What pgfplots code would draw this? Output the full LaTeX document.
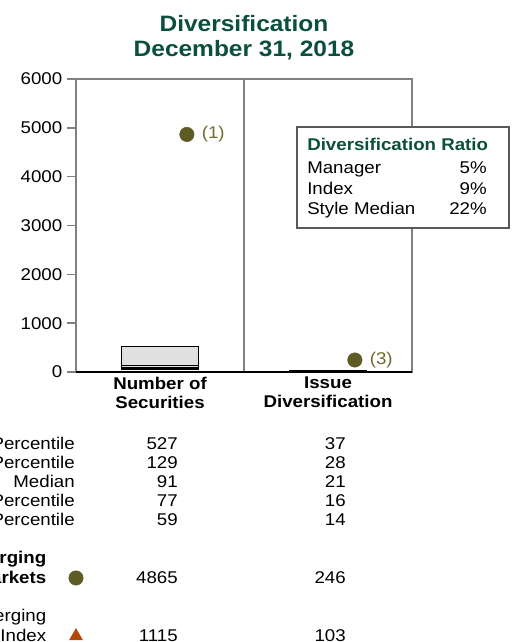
\documentclass[border=0pt]{standalone}
\usepackage{fontspec}
\setmainfont{Liberation Sans}[FakeStretch=1.1]
\usepackage{pgfplots}
\pgfplotsset{compat=1.18}
\definecolor{titlegreen}{HTML}{0B4F3C}
\definecolor{olivedot}{HTML}{5E5C24}
\definecolor{olivetext}{HTML}{6E6B2C}
\definecolor{idxorange}{HTML}{B04A0A}
\definecolor{axgray}{HTML}{808080}
\definecolor{boxfill}{HTML}{E0E0E0}
\newcommand{\bodyfont}{\fontsize{12.75}{14.25}\selectfont}
\newcommand{\titlefont}{\fontsize{16.7}{20}\selectfont\bfseries}
\begin{document}
\begin{tikzpicture}
\useasboundingbox (0,0) rectangle (384.75pt,-481.5pt);
\begin{axis}[
  at={(57pt,-279pt)}, anchor=south west,
  scale only axis, width=252pt, height=219.75pt,
  xmin=-0.5, xmax=1.5, ymin=0, ymax=6000,
  ytick={0,1000,2000,3000,4000,5000,6000},
  yticklabels={0,1000,2000,3000,4000,5000,6000},
  xtick={0,1},
  xticklabels={{Number of\\Securities},{Issue\\Diversification}},
  xticklabel style={font=\bodyfont\bfseries, align=center},
  major x tick style={draw=none},
  xtick pos=bottom, ytick pos=left,
  ytick align=outside, major tick length=6.75pt,
  /pgf/number format/assume math mode=true,
  yticklabel style={font=\bodyfont},
  axis line style={axgray, line width=1.1pt},
  every tick/.style={axgray, line width=1.1pt},
  clip=false,
]
% boxes (5th-95th percentile)
\addplot[fill=boxfill, draw=black, line width=0.9pt] coordinates {(-0.229,59) (0.229,59) (0.229,527) (-0.229,527)} -- cycle;
\addplot[black, line width=0.9pt] coordinates {(-0.229,77) (0.229,77)};
\addplot[black, line width=0.9pt] coordinates {(-0.229,91) (0.229,91)};
\addplot[black, line width=0.9pt] coordinates {(-0.229,129) (0.229,129)};
\addplot[fill=boxfill, draw=black, line width=0.9pt] coordinates {(0.771,14) (1.229,14) (1.229,37) (0.771,37)} -- cycle;
\addplot[black, line width=0.9pt] coordinates {(0.771,16) (1.229,16)};
\addplot[black, line width=0.9pt] coordinates {(0.771,21) (1.229,21)};
\addplot[black, line width=0.9pt] coordinates {(0.771,28) (1.229,28)};
% divider and base line
\draw[axgray, line width=1.1pt] (axis cs:0.5,0) -- (axis cs:0.5,6000);
\draw[black, line width=1.1pt] (axis cs:-0.5,0) -- (axis cs:1.5,0);
% manager points
\addplot[only marks, mark=*, mark size=5.4pt, color=olivedot,
  point meta=explicit symbolic, nodes near coords,
  nodes near coords style={anchor=west, xshift=11pt, inner sep=0pt, font=\bodyfont, text=olivetext}]
  table[meta=label] {
x y label
0.16 4865 (1)
1.16 246 (3)
};
% legend markers in the table below
\addplot[only marks, mark=*, mark size=5.4pt, color=olivedot] coordinates {(-0.5,-4218)};
\addplot[only marks, mark=triangle*, mark size=5.6pt, color=idxorange] coordinates {(-0.5,-5410)};
\end{axis}
\begin{scope}[x=0.75pt, y=-0.75pt]
\node[anchor=base, inner sep=0pt, font=\titlefont, text=titlegreen] at (244,31.5) {Diversification};
\node[anchor=base, inner sep=0pt, font=\titlefont, text=titlegreen] at (244,57) {December 31, 2018};
% ratio box
\draw[fill=white, draw=black!65, line width=0.9pt] (297,127) rectangle (509,228);
\node[anchor=base west, inner sep=0pt, font=\bodyfont\bfseries, text=titlegreen] at (307,150) {Diversification Ratio};
\node[anchor=base west, inner sep=0pt, font=\bodyfont] at (307,173) {Manager};
\node[anchor=base west, inner sep=0pt, font=\bodyfont] at (307,194) {Index};
\node[anchor=base west, inner sep=0pt, font=\bodyfont] at (307,214) {Style Median};
\node[anchor=base east, inner sep=0pt, font=\bodyfont] at (487,173) {5\%};
\node[anchor=base east, inner sep=0pt, font=\bodyfont] at (487,194) {9\%};
\node[anchor=base east, inner sep=0pt, font=\bodyfont] at (487,214) {22\%};
% table
\foreach \lab/\a/\b/\yy in {5th Percentile/527/37/449, 25th Percentile/129/28/468, Median/91/21/487, 75th Percentile/77/16/506, 95th Percentile/59/14/525}{
  \node[anchor=base east, inner sep=0pt, font=\bodyfont] at (75,\yy) {\lab};
  \node[anchor=base east, inner sep=0pt, font=\bodyfont] at (178,\yy) {\a};
  \node[anchor=base east, inner sep=0pt, font=\bodyfont] at (346,\yy) {\b};
}
\node[anchor=base east, inner sep=0pt, font=\bodyfont\bfseries] at (46.5,563) {Emerging};
\node[anchor=base east, inner sep=0pt, font=\bodyfont\bfseries] at (46.5,583) {Markets};
\node[anchor=base east, inner sep=0pt, font=\bodyfont] at (178,583) {4865};
\node[anchor=base east, inner sep=0pt, font=\bodyfont] at (346,583) {246};
\node[anchor=base east, inner sep=0pt, font=\bodyfont] at (46.5,621) {MSCI Emerging};
\node[anchor=base east, inner sep=0pt, font=\bodyfont] at (46.5,641) {Markets Index};
\node[anchor=base east, inner sep=0pt, font=\bodyfont] at (178,641) {1115};
\node[anchor=base east, inner sep=0pt, font=\bodyfont] at (346,641) {103};
\end{scope}
\end{tikzpicture}
\end{document}
